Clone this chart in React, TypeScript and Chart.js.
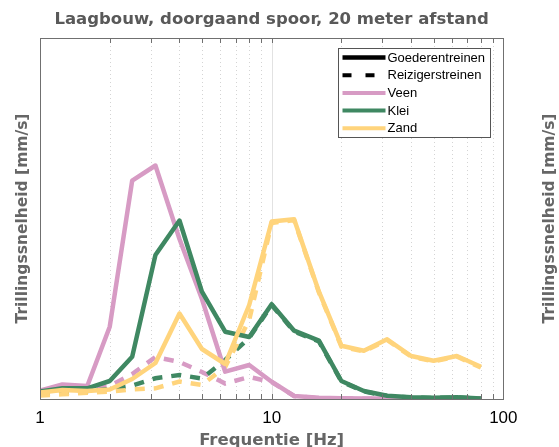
import React, { useEffect, useRef } from 'react';
import { Chart, registerables } from 'chart.js';

Chart.register(...registerables);

// ---- data (third-octave band centre frequencies, Hz) ----
const frequencies = [1, 1.25, 1.6, 2, 2.5, 3.15, 4, 5, 6.3, 8, 10, 12.5, 16, 20, 25, 31.5, 40, 50, 63, 80];

// Goederentreinen (solid)
const veenGoederen = [0.083, 0.145, 0.13, 0.723, 2.183, 2.335, 1.6, 1.0, 0.273, 0.34, 0.173, 0.03, 0.012, 0.008, 0.006, 0.005, 0.005, 0.005, 0.005, 0.005];
const kleiGoederen = [0.075, 0.107, 0.107, 0.18, 0.423, 1.44, 1.785, 1.073, 0.673, 0.62, 0.947, 0.683, 0.583, 0.18, 0.08, 0.033, 0.017, 0.012, 0.017, 0.005];
const zandGoederen = [0.065, 0.09, 0.08, 0.095, 0.2, 0.36, 0.855, 0.5, 0.35, 0.94, 1.775, 1.797, 1.073, 0.533, 0.483, 0.597, 0.43, 0.383, 0.43, 0.323];

// Reizigerstreinen (dashed)
const veenReizigers = [0.07, 0.08, 0.09, 0.13, 0.25, 0.42, 0.37, 0.27, 0.155, 0.22, 0.17, 0.03, 0.006, 0.004, 0.003, 0.003, 0.003, 0.003, 0.003, 0.003];
const kleiReizigers = [0.05, 0.057, 0.073, 0.1, 0.135, 0.207, 0.24, 0.205, 0.39, 0.61, 0.94, 0.675, 0.575, 0.175, 0.075, 0.03, 0.015, 0.01, 0.015, 0.004];
const zandReizigers = [0.035, 0.047, 0.063, 0.073, 0.095, 0.107, 0.175, 0.14, 0.32, 0.79, 1.76, 1.79, 1.065, 0.525, 0.475, 0.59, 0.425, 0.375, 0.425, 0.315];

const xTickLabels = [1, 10, 100];
const legendLabels = ['Goederentreinen', 'Reizigerstreinen', 'Veen', 'Klei', 'Zand'];

const titleText = 'Laagbouw, doorgaand spoor, 20 meter afstand';
const xTitle = 'Frequentie [Hz]';
const yTitle = 'Trillingssnelheid [mm/s]';

const COLORS: Record<string, string> = { Veen: '#d79bc4', Klei: '#3f8862', Zand: '#ffd47c' };
const DASH = [10, 9];
const TITLE_FONT = '"DejaVu Sans", sans-serif';

const gridPlugin = {
  id: 'gridFrame',
  beforeDatasetsDraw(chart: any) {
    const { ctx, chartArea: a, scales } = chart;
    const x = scales.x;
    ctx.save();
    for (let d = 1; d < 100; d *= 10) {
      for (let m = 1; m < 10; m++) {
        const v = m * d;
        if (v <= 1 || v >= 100) continue;
        const px = Math.round(x.getPixelForValue(v)) + 0.5;
        ctx.beginPath();
        if (v === 10) {
          ctx.setLineDash([]);
          ctx.strokeStyle = '#e2e2e2';
        } else {
          ctx.setLineDash([1, 3]);
          ctx.strokeStyle = '#d4d4d4';
        }
        ctx.lineWidth = 1;
        ctx.moveTo(px, a.top);
        ctx.lineTo(px, a.bottom);
        ctx.stroke();
      }
    }
    ctx.restore();
  },
  afterDatasetsDraw(chart: any, _args: any, opts: any) {
    const { ctx, chartArea: a, scales } = chart;
    const x = scales.x;
    ctx.save();
    ctx.setLineDash([]);
    ctx.strokeStyle = '#707070';
    ctx.lineWidth = 1;
    ctx.strokeRect(Math.round(a.left) + 0.5, Math.round(a.top) + 0.5, Math.round(a.right - a.left), Math.round(a.bottom - a.top));
    for (let d = 1; d < 100; d *= 10) {
      for (let m = 1; m < 10; m++) {
        const v = m * d;
        if (v <= 1 || v >= 100) continue;
        const px = Math.round(x.getPixelForValue(v)) + 0.5;
        ctx.beginPath();
        ctx.moveTo(px, a.top);
        ctx.lineTo(px, a.top + 5);
        ctx.moveTo(px, a.bottom);
        ctx.lineTo(px, a.bottom - 5);
        ctx.stroke();
      }
    }
    if (opts && opts.showLegend) {
      const bx = Math.round(a.right - 165) + 0.5;
      const by = Math.round(a.top + 10) + 0.5;
      const bw = 152;
      const bh = 89;
      ctx.fillStyle = '#ffffff';
      ctx.fillRect(bx, by, bw, bh);
      ctx.strokeStyle = '#555555';
      ctx.lineWidth = 1;
      ctx.strokeRect(bx, by, bw, bh);
      ctx.font = '13px "Liberation Sans", Arial, sans-serif';
      ctx.textBaseline = 'middle';
      ctx.textAlign = 'left';
      legendLabels.forEach((label, i) => {
        const ly = by + 9 + i * 17.7;
        ctx.beginPath();
        if (i === 0) {
          ctx.setLineDash([]);
          ctx.strokeStyle = '#000';
          ctx.lineWidth = 4.5;
        } else if (i === 1) {
          ctx.setLineDash([9, 14]);
          ctx.strokeStyle = '#000';
          ctx.lineWidth = 4;
        } else {
          ctx.setLineDash([]);
          ctx.strokeStyle = COLORS[label];
          ctx.lineWidth = 4;
        }
        ctx.moveTo(bx + 4, ly);
        ctx.lineTo(bx + 47, ly);
        ctx.stroke();
        ctx.fillStyle = '#000';
        ctx.fillText(label, bx + 49, ly + 0.5);
      });
    }
    ctx.restore();
  },
};

function makeConfig(withData: boolean): any {
  const solid = [zandGoederen, kleiGoederen, veenGoederen];
  const dashed = [zandReizigers, kleiReizigers, veenReizigers];
  const order = ['Zand', 'Klei', 'Veen'];
  const datasets: any[] = [];
  if (withData) {
    order.forEach((name, i) => {
      datasets.push({
        label: name + ' goederentreinen',
        data: frequencies.map((f, k) => ({ x: f, y: solid[i][k] })),
        borderColor: COLORS[name],
        borderWidth: 4.5,
        pointRadius: 0,
        tension: 0,
        borderJoinStyle: 'round',
        fill: false,
      });
    });
    order.forEach((name, i) => {
      datasets.push({
        label: name + ' reizigerstreinen',
        data: frequencies.map((f, k) => ({ x: f, y: dashed[i][k] })),
        borderColor: COLORS[name],
        borderWidth: 4.5,
        borderDash: DASH,
        pointRadius: 0,
        tension: 0,
        fill: false,
      });
    });
  }
  return {
    type: 'line',
    data: { datasets },
    plugins: [gridPlugin],
    options: {
      responsive: false,
      animation: false,
      events: [],
      layout: { padding: { left: 9.2, right: 22, top: 0, bottom: 0 } },
      plugins: {
        legend: { display: false },
        tooltip: { enabled: false },
        gridFrame: { showLegend: withData },
        title: {
          display: true,
          text: titleText,
          fullSize: false,
          color: '#595959',
          font: { family: TITLE_FONT, size: 16.5, weight: 'bold', lineHeight: 1.2 },
          padding: { top: 10.1, bottom: 8.1 },
        },
      },
      scales: {
        x: {
          type: 'logarithmic',
          min: 1,
          max: 100,
          afterBuildTicks: (s: any) => {
            s.ticks = xTickLabels.map((v) => ({ value: v }));
          },
          afterFit: (s: any) => {
            s.height = 48;
          },
          ticks: {
            autoSkip: false,
            maxRotation: 0,
            color: '#000',
            padding: 9.5,
            font: { family: '"Liberation Sans", Arial, sans-serif', size: 17, lineHeight: 1.2 },
            callback: (v: any) => String(v),
          },
          grid: { display: false, drawTicks: false },
          border: { display: false },
          title: {
            display: true,
            text: xTitle,
            color: '#666',
            font: { family: TITLE_FONT, size: 16.5, weight: 'bold', lineHeight: 0.75 },
            padding: { top: 0, bottom: 0 },
          },
        },
        y: {
          type: 'linear',
          min: 0,
          max: 3.61,
          ticks: { display: false },
          grid: { display: false, drawTicks: false },
          border: { display: false },
          title: {
            display: true,
            text: yTitle,
            color: '#666',
            font: { family: TITLE_FONT, size: 15.5, weight: 'bold', lineHeight: 1.2 },
            padding: { top: 4, bottom: 8.2 },
          },
        },
      },
    },
  };
}

function ChartCanvas({ withData }: { withData: boolean }) {
  const ref = useRef<HTMLCanvasElement | null>(null);
  useEffect(() => {
    if (!ref.current) return;
    const chart = new Chart(ref.current, makeConfig(withData));
    return () => chart.destroy();
  }, [withData]);
  return <canvas ref={ref} width={527} height={447} style={{ display: 'block', width: 527, height: 447 }} />;
}

export default function App() {
  return (
    <div style={{ position: 'fixed', left: 0, top: 0, width: 559, height: 447, overflow: 'hidden', background: '#fff' }}>
      <div style={{ position: 'absolute', left: 0, top: 0 }}>
        <ChartCanvas withData={true} />
      </div>
      <div style={{ position: 'absolute', left: 527, top: 0 }}>
        <ChartCanvas withData={false} />
      </div>
    </div>
  );
}
